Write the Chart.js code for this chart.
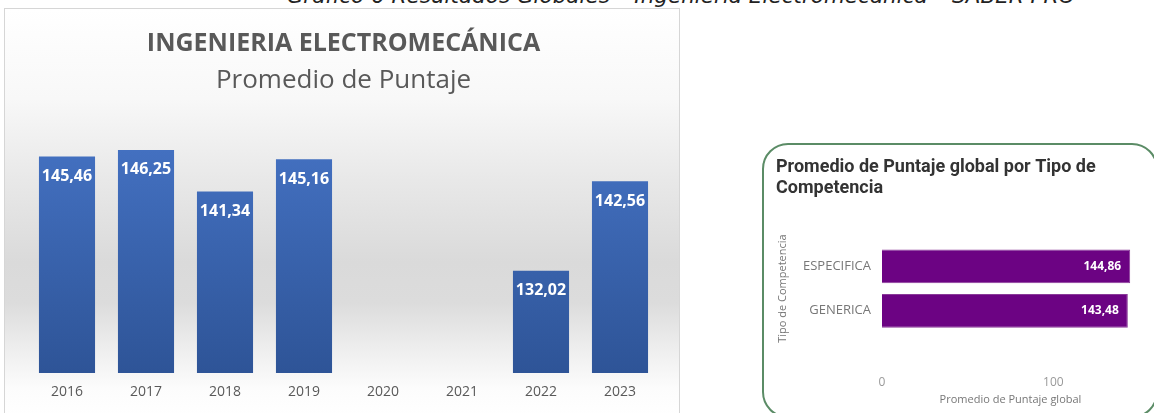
<!DOCTYPE html>
<html>
<head>
<meta charset="utf-8">
<script src="https://cdn.jsdelivr.net/npm/chart.js@4"></script>
<style>
  body { margin: 0; width: 1154px; height: 413px; background: #fff; position: relative; overflow: hidden; font-family: "Open Sans", sans-serif; }
  #caption { position: absolute; top: -17px; left: 0; width: 1362px; text-align: center; font: italic 21.5px "DejaVu Sans", sans-serif; color: #222; white-space: nowrap; }
  #panelLeft { position: absolute; left: 4px; top: 8px; width: 676px; height: 410px; border: 1px solid #d6d6d6; box-sizing: border-box;
    background: linear-gradient(to bottom, #ffffff 0%, #f8f8f8 22%, #e8e8e8 42%, #dadada 62%, #dcdcdc 72%, #efefef 84%, #fcfcfc 93%, #ffffff 100%); }
  #cardRight { position: absolute; left: 762px; top: 143px; width: 396px; height: 275px; border: 2px solid #5b8c66; border-radius: 26px; box-sizing: border-box; background: #fff; }
  .box { position: absolute; }
</style>
</head>
<body>
<div id="caption">Gráfico 6 Resultados Globales – Ingeniería Electromecánica – SABER PRO</div>
<div id="panelLeft"></div>
<div id="cardRight"></div>
<div class="box" style="left:5px; top:8px; width:675px; height:405px;"><canvas id="chartAnios"></canvas></div>
<div class="box" style="left:762px; top:143px; width:392px; height:270px;"><canvas id="chartTipo"></canvas></div>

<script>
const years = ['2016', '2017', '2018', '2019', '2020', '2021', '2022', '2023'];
const puntajes = [145.46, 146.25, 141.34, 145.16, null, null, 132.02, 142.56];

const tipos = ['ESPECIFICA', 'GENERICA'];
const puntajeTipo = [144.86, 143.48];

function fmt(v) {
    return v.toFixed(2).replace('.', ',');
}

// draws the value of each bar inside it
const barLabels = {
    id: 'barLabels',
    afterDatasetsDraw(chart, args, opts) {
        const ctx = chart.ctx;
        const meta = chart.getDatasetMeta(0);
        ctx.save();
        ctx.fillStyle = opts.color;
        ctx.font = opts.font;
        ctx.textBaseline = 'middle';
        meta.data.forEach((bar, i) => {
            const v = chart.data.datasets[0].data[i];
            if (v == null) return;
            if (opts.horizontal) {
                ctx.textAlign = 'right';
                ctx.fillText(fmt(v), bar.x - opts.inset, bar.y);
            } else {
                ctx.textAlign = 'center';
                ctx.fillText(fmt(v), bar.x, bar.y + opts.inset);
            }
        });
        ctx.restore();
    }
};

new Chart(document.getElementById('chartAnios'), {
    type: 'bar',
    data: {
        labels: years,
        datasets: [{
            data: puntajes,
            barPercentage: 0.71,
            categoryPercentage: 1,
            backgroundColor: (c) => {
                const area = c.chart.chartArea;
                if (!area) return '#4472c4';
                const g = c.chart.ctx.createLinearGradient(0, area.top, 0, area.bottom);
                g.addColorStop(0, '#4674c6');
                g.addColorStop(1, '#2e5497');
                return g;
            }
        }]
    },
    options: {
        responsive: true,
        maintainAspectRatio: false,
        animation: false,
        layout: { padding: { left: 22.5, right: 20.5, bottom: 2 } },
        plugins: {
            legend: { display: false },
            tooltip: { enabled: false },
            title: {
                display: true,
                text: 'INGENIERIA ELECTROMECÁNICA',
                color: '#595959',
                font: { family: 'Open Sans', size: 25, weight: 'bold', lineHeight: 1.2 },
                padding: { top: 21, bottom: 6.4 }
            },
            subtitle: {
                display: true,
                text: 'Promedio de Puntaje',
                color: '#595959',
                font: { family: 'Open Sans', size: 26, lineHeight: 1.2 },
                padding: { bottom: 21.4 }
            },
            barLabels: { color: '#ffffff', font: 'bold 16px "Open Sans"', inset: 20 }
        },
        scales: {
            x: {
                grid: { display: false, drawTicks: false },
                border: { display: false },
                ticks: { color: '#595959', font: { family: 'Open Sans', size: 14 }, padding: 10.6 }
            },
            y: {
                display: false,
                min: 120,
                max: 150
            }
        }
    },
    plugins: [barLabels]
});

new Chart(document.getElementById('chartTipo'), {
    type: 'bar',
    data: {
        labels: tipos,
        datasets: [{
            data: puntajeTipo,
            backgroundColor: '#6c0383',
            borderColor: '#8a3a99',
            borderWidth: 1,
            barPercentage: 0.76,
            categoryPercentage: 1
        }]
    },
    options: {
        indexAxis: 'y',
        responsive: true,
        maintainAspectRatio: false,
        animation: false,
        layout: { padding: { left: 14, right: 15, bottom: 6.4 } },
        plugins: {
            legend: { display: false },
            tooltip: { enabled: false },
            title: {
                display: true,
                align: 'start',
                text: ['Promedio de Puntaje global por Tipo de', 'Competencia'],
                color: '#333333',
                font: { family: 'Roboto', size: 18, weight: 'bold', lineHeight: 1.17 },
                padding: { top: 13.5, bottom: 45.5 }
            },
            barLabels: { color: '#ffffff', font: 'bold 12px "Open Sans"', inset: 9, horizontal: true }
        },
        scales: {
            x: {
                min: 0,
                max: 150,
                grid: { display: false, drawTicks: true, tickLength: 38, tickColor: 'transparent' },
                border: { display: false },
                ticks: { stepSize: 100, includeBounds: false, color: '#999999', font: { family: 'Open Sans', size: 12 }, padding: 4 },
                title: { display: true, text: 'Promedio de Puntaje global', color: '#777777', font: { family: 'Open Sans', size: 11 }, padding: { top: 0, bottom: 0 } }
            },
            y: {
                grid: { display: false, drawTicks: false },
                border: { display: false },
                ticks: { color: '#777777', font: { family: 'Open Sans', size: 13 }, padding: 11 },
                title: { display: true, text: 'Tipo de Competencia', color: '#777777', font: { family: 'Open Sans', size: 11 }, padding: { top: 0.4, bottom: 2.4 } }
            }
        }
    },
    plugins: [barLabels]
});
</script>
</body>
</html>
